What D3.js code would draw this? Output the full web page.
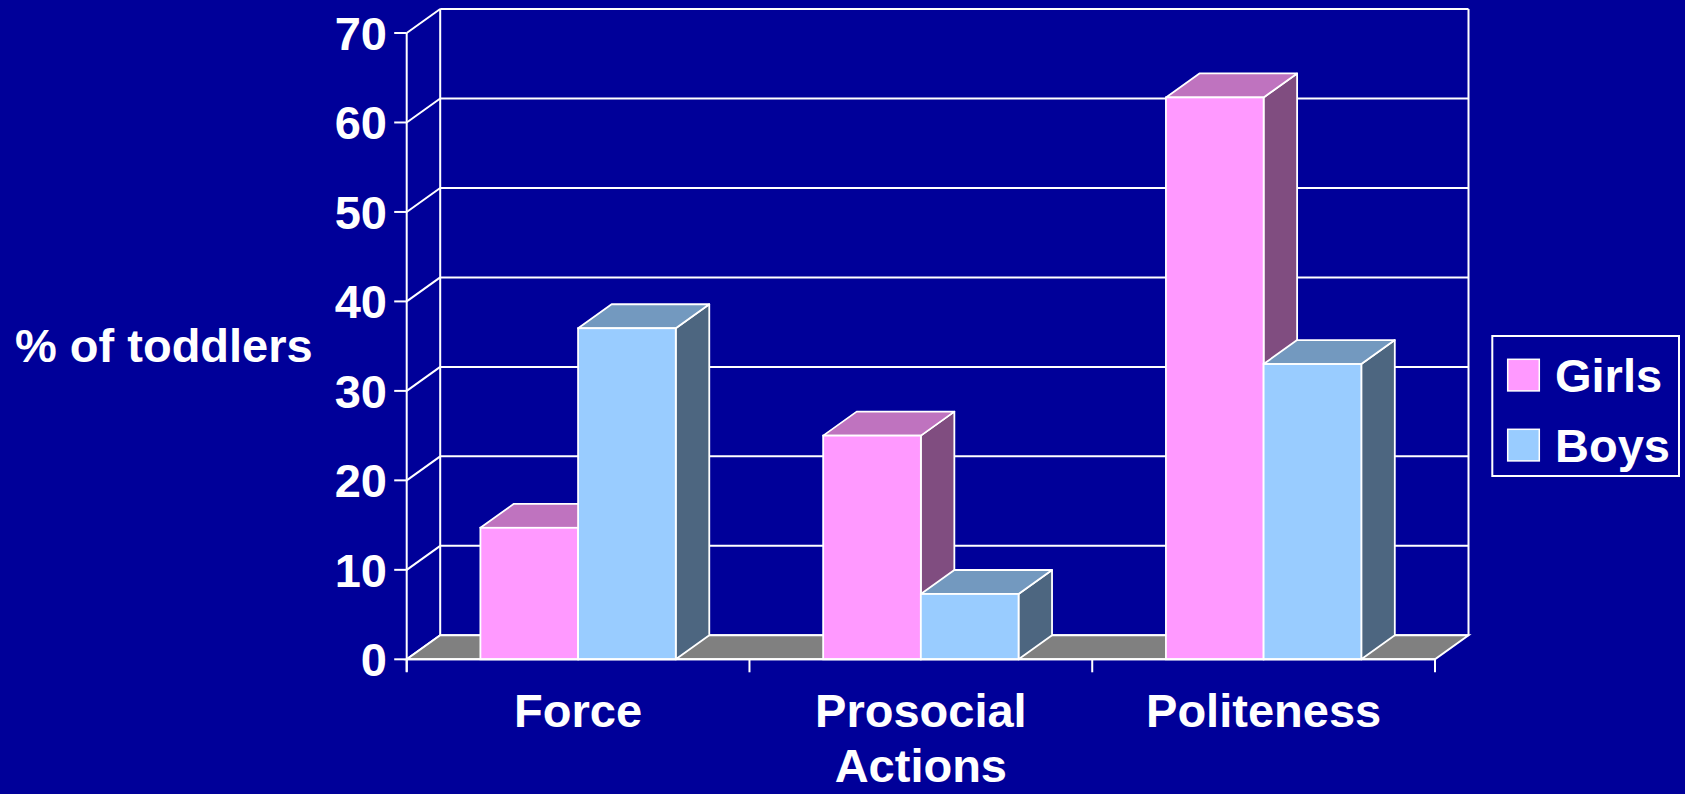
<!DOCTYPE html>
<html>
<head>
<meta charset="utf-8">
<script src="https://cdn.jsdelivr.net/npm/d3@7"></script>
<style>
  html, body { margin: 0; padding: 0; background: #000099; overflow: hidden; }
  svg { display: block; }
  text { font-family: "Liberation Sans", Arial, sans-serif; font-weight: bold; fill: #ffffff; }
</style>
</head>
<body>
<svg id="chart" width="1685" height="794"></svg>
<script>
// ---- data ----
const categories = [["Force"], ["Prosocial", "Actions"], ["Politeness"]];
const categoryKeys = ["Force", "Prosocial Actions", "Politeness"];
const seriesNames = ["Girls", "Boys"];
const girlsValues = [14.7, 25, 62.8];
const boysValues = [37, 7.3, 33];
const yTicks = [0, 10, 20, 30, 40, 50, 60, 70];
const axisTitle = "% of toddlers";

// ---- styles ----
const palette = {
  Girls: { front: "#FF99FF", top: "#BF73BF", side: "#804D80" },
  Boys:  { front: "#99CCFF", top: "#7399BF", side: "#4D6680" }
};
const seriesValues = { Girls: girlsValues, Boys: boysValues };

const svg = d3.select("#chart");
svg.append("rect").attr("width", 1685).attr("height", 794).attr("fill", "#000099");

// ---- geometry ----
const fx0 = 406.7, fx1 = 1435;     // front plane x extent
const dx = 33.5, dy = -24;          // depth offset (front -> back)
const y = d3.scaleLinear().domain([0, 70]).range([659.3, 33]);

const xCat = d3.scaleBand().domain(categoryKeys).range([fx0, fx1])
  .paddingInner(0.43).paddingOuter(0.215);
const xSer = d3.scaleBand().domain(seriesNames).range([0, xCat.bandwidth()]);
const step = xCat.step();

const white = "#ffffff";

// back wall gridlines
const g = svg.append("g");
g.selectAll("line.grid").data(yTicks).join("line")
  .attr("x1", fx0 + dx).attr("x2", fx1 + dx)
  .attr("y1", d => y(d) + dy).attr("y2", d => y(d) + dy)
  .attr("stroke", white).attr("stroke-width", 2);

// back wall verticals
[fx0 + dx, fx1 + dx].forEach(xx => {
  g.append("line").attr("x1", xx).attr("x2", xx)
    .attr("y1", y(70) + dy).attr("y2", y(0) + dy)
    .attr("stroke", white).attr("stroke-width", 2);
});

// side wall diagonals
g.selectAll("line.side").data(yTicks).join("line")
  .attr("x1", fx0).attr("x2", fx0 + dx)
  .attr("y1", d => y(d)).attr("y2", d => y(d) + dy)
  .attr("stroke", white).attr("stroke-width", 2);

// floor
const floorPts = [[fx0, y(0)], [fx1, y(0)], [fx1 + dx, y(0) + dy], [fx0 + dx, y(0) + dy]];
g.append("polygon").attr("points", floorPts.map(p => p.join(",")).join(" "))
  .attr("fill", "#808080").attr("stroke", white).attr("stroke-width", 2)
  .attr("stroke-linejoin", "miter");

// bars
const bars = svg.append("g");
categoryKeys.forEach((cat, i) => {
  seriesNames.forEach(s => {
    const v = seriesValues[s][i];
    const xl = xCat(cat) + xSer(s);
    const xr = xl + xSer.bandwidth();
    const yt = y(v), yb = y(0);
    const c = palette[s];
    const sw = 1.8;
    // side face
    bars.append("polygon")
      .attr("points", [[xr, yb], [xr + dx, yb + dy], [xr + dx, yt + dy], [xr, yt]].map(p => p.join(",")).join(" "))
      .attr("fill", c.side).attr("stroke", white).attr("stroke-width", sw).attr("stroke-linejoin", "round");
    // top face
    bars.append("polygon")
      .attr("points", [[xl, yt], [xr, yt], [xr + dx, yt + dy], [xl + dx, yt + dy]].map(p => p.join(",")).join(" "))
      .attr("fill", c.top).attr("stroke", white).attr("stroke-width", sw).attr("stroke-linejoin", "round");
    // front face
    bars.append("rect")
      .attr("x", xl).attr("y", yt).attr("width", xr - xl).attr("height", yb - yt)
      .attr("fill", c.front).attr("stroke", white).attr("stroke-width", sw);
  });
});

// front axes
const ax = svg.append("g");
ax.append("line").attr("x1", fx0).attr("x2", fx1).attr("y1", y(0)).attr("y2", y(0))
  .attr("stroke", white).attr("stroke-width", 2);
ax.append("line").attr("x1", fx0).attr("x2", fx0).attr("y1", y(70)).attr("y2", y(0) + 12.5)
  .attr("stroke", white).attr("stroke-width", 2);
// y ticks
ax.selectAll("line.yt").data(yTicks).join("line")
  .attr("x1", fx0 - 12.5).attr("x2", fx0)
  .attr("y1", d => y(d)).attr("y2", d => y(d))
  .attr("stroke", white).attr("stroke-width", 2);
ax.selectAll("text.yl").data(yTicks).join("text")
  .attr("x", 387).attr("y", d => y(d) + 17)
  .attr("text-anchor", "end").attr("font-size", 47)
  .text(d => d);
// category ticks
const catBounds = d3.range(categoryKeys.length + 1).map(i => fx0 + i * step);
ax.selectAll("line.xt").data(catBounds).join("line")
  .attr("x1", d => d).attr("x2", d => d)
  .attr("y1", y(0)).attr("y2", y(0) + 13)
  .attr("stroke", white).attr("stroke-width", 2);
// category labels
categoryKeys.forEach((cat, i) => {
  const cx = xCat(cat) + xCat.bandwidth() / 2;
  const t = ax.append("text").attr("text-anchor", "middle").attr("font-size", 47);
  categories[i].forEach((line, j) => {
    t.append("tspan").attr("x", cx).attr("y", 727 + j * 55).text(line);
  });
});

// axis title
svg.append("text").attr("x", 15).attr("y", 361.7).attr("font-size", 47).text(axisTitle);

// legend
const lg = svg.append("g");
lg.append("rect").attr("x", 1492.3).attr("y", 336).attr("width", 186.7).attr("height", 140)
  .attr("fill", "none").attr("stroke", white).attr("stroke-width", 2);
const legendRows = d3.scalePoint().domain(seriesNames).range([359.3, 429.3]);
seriesNames.forEach(s => {
  lg.append("rect").attr("x", 1507.7).attr("y", legendRows(s)).attr("width", 31.6).attr("height", 31.6)
    .attr("fill", palette[s].front).attr("stroke", white).attr("stroke-width", 1.5);
  lg.append("text").attr("x", 1555).attr("y", legendRows(s) + 32.3).attr("font-size", 47).text(s);
});
</script>
</body>
</html>
